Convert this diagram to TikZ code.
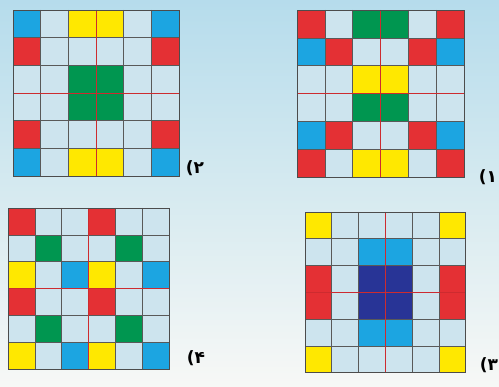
\documentclass[tikz,border=0pt]{standalone}
\usepackage{fontspec}
\usepackage{tikz}
\usepackage{xcolor}
\newfontfamily\digitfont{DejaVu Sans}
\definecolor{cr}{RGB}{228,48,52}
\definecolor{cb}{RGB}{28,165,225}
\definecolor{cy}{RGB}{255,232,0}
\definecolor{cg}{RGB}{0,150,80}
\definecolor{cd}{RGB}{40,52,150}
\definecolor{cl}{RGB}{205,228,238}
\definecolor{bgtop}{RGB}{182,220,236}
\definecolor{bgmid}{RGB}{214,234,240}
\definecolor{bgbot}{RGB}{247,248,246}

% one 6x6 board: #1 x, #2 y, #3 cell size, #4 rows of colours
\newcommand\boardgrid[4]{%
  \foreach \row [count=\r] in {#4} {
    \foreach \c [count=\k] in \row {
      \fill[\c] ({#1+(\k-1)*#3},{#2+(\r-1)*#3}) rectangle ++(#3,#3);
    }
  }
  \foreach \i in {1,2,4,5} {
    \draw[gridline] ({#1+\i*#3},#2) -- ++(0,{6*#3});
    \draw[gridline] (#1,{#2+\i*#3}) -- ++({6*#3},0);
  }
  \draw[midline] ({#1+3*#3},#2) -- ++(0,{6*#3});
  \draw[midline] (#1,{#2+3*#3}) -- ++({6*#3},0);
  \draw[frame] (#1,#2) rectangle ({#1+6*#3},{#2+6*#3});
}

\begin{document}
\begin{tikzpicture}[
  x=1pt, y=-1pt,
  gridline/.style={draw=black!65, line width=0.7pt},
  midline/.style={draw=cr!90!black, line width=1pt},
  frame/.style={draw=black!70, line width=0.9pt},
  label/.style={font=\digitfont\bfseries\fontsize{17}{17}\selectfont, inner sep=0pt}
]

% background
\shade[top color=bgtop, bottom color=bgbot, middle color=bgmid]
  (0,0) rectangle (499,387);
\useasboundingbox (0,0) rectangle (499,387);

% board 2 (top left)
\boardgrid{13}{10}{27.7}{{cb,cl,cy,cy,cl,cb},{cr,cl,cl,cl,cl,cr},{cl,cl,cg,cg,cl,cl},
  {cl,cl,cg,cg,cl,cl},{cr,cl,cl,cl,cl,cr},{cb,cl,cy,cy,cl,cb}}

% board 1 (top right)
\boardgrid{297}{10}{27.9}{{cr,cl,cg,cg,cl,cr},{cb,cr,cl,cl,cr,cb},{cl,cl,cy,cy,cl,cl},
  {cl,cl,cg,cg,cl,cl},{cb,cr,cl,cl,cr,cb},{cr,cl,cy,cy,cl,cr}}

% board 4 (bottom left)
\boardgrid{8}{208}{26.9}{{cr,cl,cl,cr,cl,cl},{cl,cg,cl,cl,cg,cl},{cy,cl,cb,cy,cl,cb},
  {cr,cl,cl,cr,cl,cl},{cl,cg,cl,cl,cg,cl},{cy,cl,cb,cy,cl,cb}}

% board 3 (bottom right)
\boardgrid{305}{212}{26.8}{{cy,cl,cl,cl,cl,cy},{cl,cl,cb,cb,cl,cl},{cr,cl,cd,cd,cl,cr},
  {cr,cl,cd,cd,cl,cr},{cl,cl,cb,cb,cl,cl},{cy,cl,cl,cl,cl,cy}}

% labels
\node[label] (lbltwo) at (195,168) {(۲};
\node[label] (lblone) at (488,177) {(۱};
\node[label] (lblfour) at (196,358) {(۴};
\node[label] (lblthree) at (489,365) {(۳};

\end{tikzpicture}
\end{document}
